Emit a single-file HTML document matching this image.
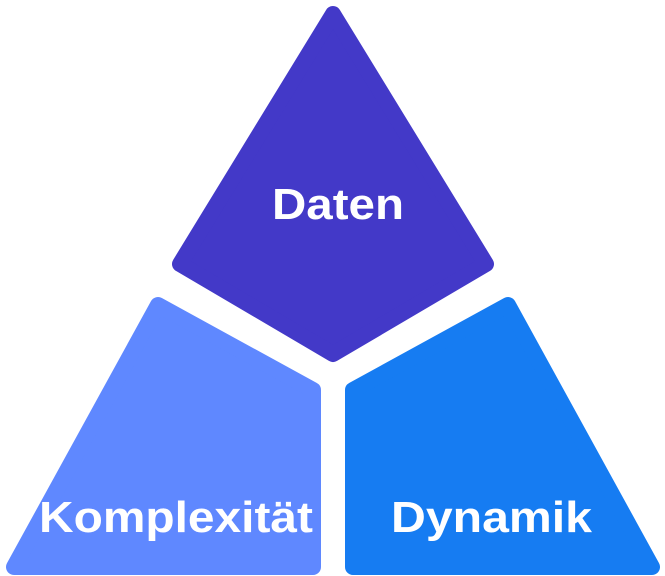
<!DOCTYPE html>
<html><head><meta charset="utf-8"><style>
html,body{margin:0;padding:0;background:#fff;width:665px;height:576px;overflow:hidden}
svg{display:block}
text{font-family:"Liberation Sans",sans-serif;font-weight:bold;fill:#fff;font-size:44px}
</style></head><body>
<svg width="665" height="576" viewBox="0 0 665 576">
<polygon points="333,14 180,264 333,354 486,264" fill="#4339C8" stroke="#4339C8" stroke-width="16" stroke-linejoin="round"/>
<polygon points="158,305 14,567 313,567 313,390" fill="#5F88FF" stroke="#5F88FF" stroke-width="16" stroke-linejoin="round"/>
<polygon points="508,305 652,567 353,567 353,390" fill="#167CF2" stroke="#167CF2" stroke-width="16" stroke-linejoin="round"/>
<text x="272" y="219" textLength="132" lengthAdjust="spacingAndGlyphs">Daten</text>
<text x="39" y="532" textLength="274" lengthAdjust="spacingAndGlyphs">Komplexität</text>
<text x="391" y="532" textLength="201" lengthAdjust="spacingAndGlyphs">Dynamik</text>
</svg>
</body></html>
